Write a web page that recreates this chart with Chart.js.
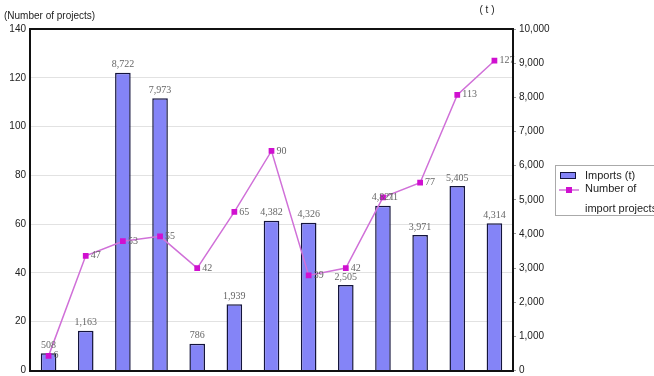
<!DOCTYPE html>
<html>
<head>
<meta charset="utf-8">
<script src="https://cdn.jsdelivr.net/npm/chart.js@4/dist/chart.umd.min.js"></script>
<style>
  html, body { margin: 0; padding: 0; background: #fff; }
  #wrap { position: relative; width: 654px; height: 376px; }
</style>
</head>
<body>
<div id="wrap"><canvas id="chart" width="654" height="376"></canvas></div>
<script>
// categories aren't printed on the source, so just number them
const categories = ["1", "2", "3", "4", "5", "6", "7", "8", "9", "10", "11", "12", "13"];
const importsTonnes = [508, 1163, 8722, 7973, 786, 1939, 4382, 4326, 2505, 4821, 3971, 5405, 4314];
const projectCounts = [6, 47, 53, 55, 42, 65, 90, 39, 42, 71, 77, 113, 127];
const leftTicks = [0, 20, 40, 60, 80, 100, 120, 140];
const rightTicks = [0, 1000, 2000, 3000, 4000, 5000, 6000, 7000, 8000, 9000, 10000];

const BAR_FILL = "#8484f7";
const BAR_EDGE = "#14143c";
const LINE_COLOR = "#d070d8";
const POINT_COLOR = "#d010d0";
const SANS = "'Liberation Sans', Arial, sans-serif";
const SERIF = "'Liberation Serif', 'Times New Roman', serif";

// y scales: fixed width and no extra room reserved for the end labels
function fitWidth(w) {
  return scale => {
    scale.width = w;
    scale.paddingTop = 0;
    scale.paddingBottom = 0;
  };
}

// value labels, axis captions, frame and legend
const decorations = {
  id: "decorations",
  afterDatasetsDraw(chart) {
    const ctx = chart.ctx;
    const area = chart.chartArea;
    ctx.save();
    ctx.font = "10px " + SERIF;
    ctx.fillStyle = "#666";

    const bars = chart.getDatasetMeta(0).data;
    ctx.textAlign = "center";
    ctx.textBaseline = "bottom";
    bars.forEach((b, i) => {
      ctx.fillText(importsTonnes[i].toLocaleString("en-US"), b.x, b.y - 3);
    });

    const pts = chart.getDatasetMeta(1).data;
    ctx.textAlign = "left";
    ctx.textBaseline = "middle";
    pts.forEach((p, i) => {
      ctx.fillText(String(projectCounts[i]), p.x + 5, p.y);
    });

    // frame round the plot
    ctx.strokeStyle = "#111";
    ctx.lineWidth = 2;
    ctx.beginPath();
    ctx.moveTo(area.left, area.bottom);
    ctx.lineTo(area.left, area.top);
    ctx.lineTo(area.right, area.top);
    ctx.lineTo(area.right, area.bottom);
    ctx.stroke();
    ctx.restore();
  },
  afterDraw(chart) {
    const ctx = chart.ctx;
    const area = chart.chartArea;
    ctx.save();
    ctx.font = "10px " + SANS;
    ctx.fillStyle = "#222";
    ctx.textBaseline = "middle";
    ctx.textAlign = "left";
    ctx.fillText("(Number of projects)", 4, 16);
    ctx.textAlign = "center";
    ctx.fillText("( t )", area.right - 26, 10);

    // legend box, runs off the right edge like the source
    const lx = 555, ly = 165;
    ctx.strokeStyle = "#aaa";
    ctx.lineWidth = 1;
    ctx.strokeRect(lx + 0.5, ly + 0.5, 110, 50);
    ctx.fillStyle = BAR_FILL;
    ctx.fillRect(lx + 5, ly + 7, 15, 6);
    ctx.strokeStyle = BAR_EDGE;
    ctx.strokeRect(lx + 5.5, ly + 7.5, 15, 6);
    ctx.strokeStyle = LINE_COLOR;
    ctx.lineWidth = 1.5;
    ctx.beginPath();
    ctx.moveTo(lx + 4, ly + 25);
    ctx.lineTo(lx + 24, ly + 25);
    ctx.stroke();
    ctx.fillStyle = POINT_COLOR;
    ctx.fillRect(lx + 11, ly + 22, 6, 6);
    ctx.font = "11px " + SANS;
    ctx.fillStyle = "#222";
    ctx.textAlign = "left";
    ctx.fillText("Imports (t)", lx + 30, ly + 11);
    ctx.fillText("Number of", lx + 30, ly + 24);
    ctx.fillText("import projects", lx + 30, ly + 44);
    ctx.restore();
  }
};

new Chart(document.getElementById("chart"), {
  data: {
    labels: categories,
    datasets: [
      {
        type: "bar",
        label: "Imports (t)",
        data: importsTonnes,
        yAxisID: "yRight",
        backgroundColor: BAR_FILL,
        borderColor: BAR_EDGE,
        borderWidth: 1.5,
        borderSkipped: "bottom",
        barPercentage: 0.42,
        categoryPercentage: 1,
        order: 2
      },
      {
        type: "line",
        label: "Number of import projects",
        data: projectCounts,
        yAxisID: "yLeft",
        borderColor: LINE_COLOR,
        borderWidth: 1.5,
        pointStyle: "rect",
        pointRadius: 3,
        pointBackgroundColor: POINT_COLOR,
        pointBorderColor: POINT_COLOR,
        tension: 0,
        order: 1
      }
    ]
  },
  options: {
    responsive: false,
    animation: false,
    devicePixelRatio: 1,
    layout: { padding: { left: 4, top: 29, right: 104, bottom: 5 } },
    plugins: {
      legend: { display: false },
      tooltip: { enabled: false }
    },
    scales: {
      x: {
        ticks: { display: false },
        grid: { display: false, drawTicks: false },
        border: { color: "#111", width: 2 },
        afterFit(scale) { scale.height = 0; }
      },
      yLeft: {
        position: "left",
        min: 0,
        max: 140,
        afterBuildTicks(scale) { scale.ticks = leftTicks.map(v => ({ value: v })); },
        ticks: { font: { family: SANS, size: 10 }, color: "#222", padding: 4, autoSkip: false },
        grid: { color: "#e2e2e2", drawTicks: false },
        border: { color: "#111", width: 2 },
        afterFit: fitWidth(26)
      },
      yRight: {
        position: "right",
        min: 0,
        max: 10000,
        afterBuildTicks(scale) { scale.ticks = rightTicks.map(v => ({ value: v })); },
        ticks: {
          font: { family: SANS, size: 10 },
          color: "#222",
          padding: 3,
          autoSkip: false,
          callback: v => v.toLocaleString("en-US")
        },
        grid: { drawOnChartArea: false, tickLength: 3, color: "#999" },
        border: { color: "#111", width: 2 },
        afterFit: fitWidth(37)
      }
    }
  },
  plugins: [decorations]
});
</script>
</body>
</html>
